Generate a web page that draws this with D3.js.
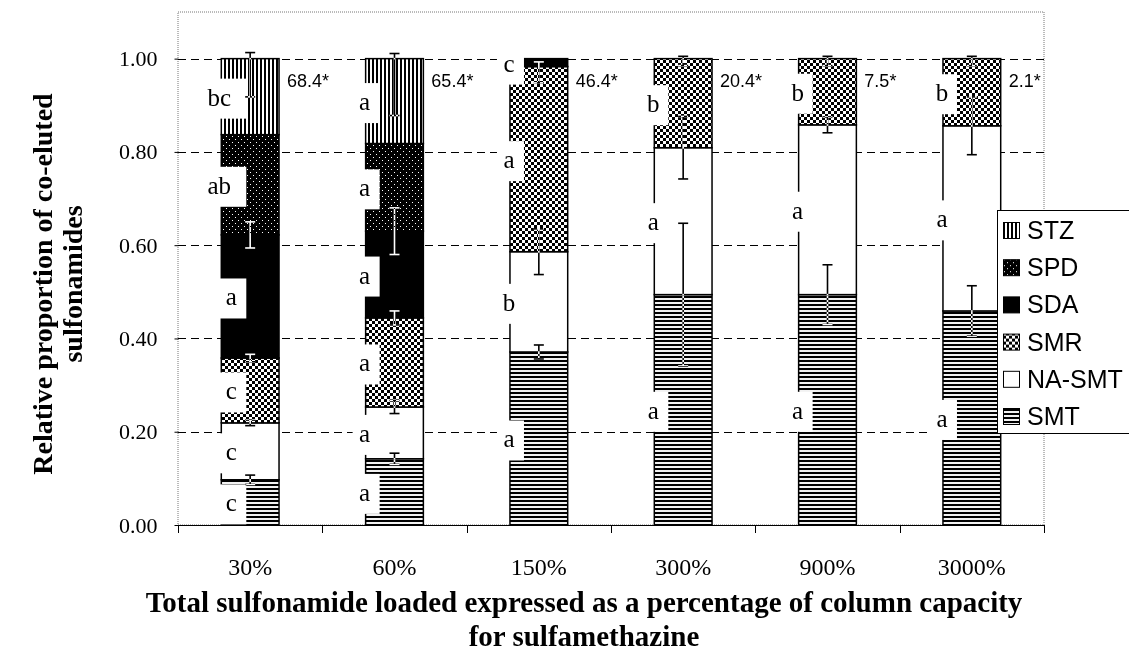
<!DOCTYPE html>
<html>
<head>
<meta charset="utf-8">
<script src="https://cdn.jsdelivr.net/npm/d3@7/dist/d3.min.js"></script>
<style>
  body { margin: 0; background: #fff; }
  svg { isolation: isolate; }
  .serif { font-family: "Liberation Serif", "Times New Roman", serif; }
  .sans { font-family: "Liberation Sans", Arial, sans-serif; }
</style>
</head>
<body>
<div id="chart"></div>
<script>
// data (stack order bottom -> top)
var categories = ["30%", "60%", "150%", "300%", "900%", "3000%"];
var keys = ["SMT", "NA-SMT", "SMR", "SDA", "SPD", "STZ"];

var smt   = [0.097, 0.142, 0.371, 0.494, 0.494, 0.459];
var naSmt = [0.122, 0.111, 0.215, 0.315, 0.364, 0.397];
var smr   = [0.139, 0.191, 0.397, 0.191, 0.142, 0.144];
var sda   = [0.264, 0.186, 0.017, 0, 0, 0];
var spd   = [0.215, 0.188, 0, 0, 0, 0];
var stz   = [0.163, 0.182, 0, 0, 0, 0];

// error bars [minus, plus] around top of each segment
var errSmt   = [[0.010, 0.010], [0.012, 0.012], [0.015, 0.015], [0.153, 0.153], [0.064, 0.064], [0.054, 0.054]];
var errNaSmt = [[0.006, 0.006], [0.014, 0.014], [0.049, 0.049], [0.067, 0.067], [0.017, 0.017], [0.062, 0.062]];
var errSmr   = [[0.008, 0.008], [0.015, 0.015], [0.035, 0.010], [0.015, 0.005], [0.015, 0.005], [0.015, 0.005]];
var errSda   = [[0.028, 0.028], [0.050, 0.050], null, null, null, null];
var errSpd   = [null, null, null, null, null, null];
var errStz   = [[0.082, 0.013], [0.122, 0.011], null, null, null, null];

// significance letters
var lblSmt   = ["c", "a", "a", "a", "a", "a"];
var lblNaSmt = ["c", "a", "b", "a", "a", "a"];
var lblSmr   = ["c", "a", "a", "b", "b", "b"];
var lblSda   = ["a", "a", "c", "", "", ""];
var lblSpd   = ["ab", "a", "", "", "", ""];
var lblStz   = ["bc", "a", "", "", "", ""];

var totals = ["68.4*", "65.4*", "46.4*", "20.4*", "7.5*", "2.1*"];
var yTicks = [0, 0.2, 0.4, 0.6, 0.8, 1.0];

var values = [smt, naSmt, smr, sda, spd, stz],
    errs = [errSmt, errNaSmt, errSmr, errSda, errSpd, errStz],
    lbls = [lblSmt, lblNaSmt, lblSmr, lblSda, lblSpd, lblStz];

var w = 1129, h = 662;
var svg = d3.select("#chart").append("svg")
    .attr("width", w).attr("height", h);
svg.append("rect").attr("width", w).attr("height", h).attr("fill", "#fff");

// patterns
var defs = svg.append("defs");
function pat(id, size) {
  return defs.append("pattern").attr("id", id)
    .attr("patternUnits", "userSpaceOnUse")
    .attr("width", size[0]).attr("height", size[1]);
}
var p;
p = pat("p-stz", [4, 4]);
p.append("rect").attr("width", 4).attr("height", 4).attr("fill", "#fff");
p.append("rect").attr("width", 2).attr("height", 4).attr("fill", "#000");

p = pat("p-spd", [6, 6]);
p.append("rect").attr("width", 6).attr("height", 6).attr("fill", "#000");
p.append("rect").attr("x", 1).attr("y", 1).attr("width", 1).attr("height", 1).attr("fill", "#fff");
p.append("rect").attr("x", 4).attr("y", 4).attr("width", 1).attr("height", 1).attr("fill", "#fff");

p = pat("p-smr", [6, 6]);
p.append("rect").attr("width", 6).attr("height", 6).attr("fill", "#000");
p.append("rect").attr("x", 0).attr("y", 0).attr("width", 3).attr("height", 3).attr("fill", "#fff");
p.append("rect").attr("x", 3).attr("y", 3).attr("width", 3).attr("height", 3).attr("fill", "#fff");

p = pat("p-smt", [4, 4]);
p.append("rect").attr("width", 4).attr("height", 4).attr("fill", "#f2f2f2");
p.append("rect").attr("width", 4).attr("height", 2).attr("fill", "#000");

var fills = {
  "SMT": "url(#p-smt)", "NA-SMT": "#fff", "SMR": "url(#p-smr)",
  "SDA": "#000", "SPD": "url(#p-spd)", "STZ": "url(#p-stz)"
};

// scales
var x = d3.scaleBand().domain(categories)
    .range([178, 1044]).paddingInner(0.6).paddingOuter(0.3);
var y = d3.scaleLinear().domain([0, 1.1]).range([525, 12]);
var step = x.step();

// plot border (dotted)
svg.append("rect").attr("x", 178).attr("y", 12)
  .attr("width", 866).attr("height", 513)
  .attr("fill", "none").attr("stroke", "#777")
  .attr("stroke-width", 1).attr("stroke-dasharray", "1,1");

// gridlines
svg.append("g").selectAll("line").data(yTicks.filter(function(d) { return d > 0; }))
  .enter().append("line")
  .attr("x1", 178).attr("x2", 1044)
  .attr("y1", function(d) { return Math.round(y(d)) + 0.5; })
  .attr("y2", function(d) { return Math.round(y(d)) + 0.5; })
  .attr("stroke", "#000").attr("stroke-dasharray", "8,5");

// y axis
var yAxis = d3.axisLeft(y).tickValues(yTicks).tickFormat(d3.format(".2f"))
    .tickSize(4).tickPadding(17);
var gy = svg.append("g").attr("transform", "translate(178.5,0)").call(yAxis);
gy.select(".domain").remove();
gy.selectAll("text").attr("class", "serif").style("font-size", "22px").attr("fill", "#000");

// x axis
var xAxis = d3.axisBottom(x).tickSize(0).tickPadding(32);
var gx = svg.append("g").attr("transform", "translate(0,525.5)").call(xAxis);
gx.select(".domain").remove();
gx.selectAll("text").attr("class", "serif").style("font-size", "24px").attr("fill", "#000");
svg.append("line").attr("x1", 178).attr("x2", 1044).attr("y1", 525.5).attr("y2", 525.5)
  .attr("stroke", "#000");
svg.append("g").selectAll("line").data(d3.range(categories.length + 1))
  .enter().append("line")
  .attr("x1", function(i) { return Math.round(178 + i * step) + 0.5; })
  .attr("x2", function(i) { return Math.round(178 + i * step) + 0.5; })
  .attr("y1", 525).attr("y2", 533).attr("stroke", "#000");

// stacked bars
var table = categories.map(function(c, j) {
  var row = { cat: c };
  keys.forEach(function(k, i) { row[k] = values[i][j]; });
  return row;
});
var stacked = d3.stack().keys(keys)(table);

var layers = svg.append("g").selectAll("g").data(stacked).enter().append("g")
  .attr("fill", function(d) { return fills[d.key]; });
layers.selectAll("rect")
  .data(function(d) { return d.filter(function(s) { return s[1] - s[0] > 0; }); })
  .enter().append("rect")
  .attr("x", function(d) { return x(d.data.cat); })
  .attr("y", function(d) { return y(d[1]); })
  .attr("width", x.bandwidth())
  .attr("height", function(d) { return y(d[0]) - y(d[1]); })
  .attr("stroke", "#000").attr("stroke-width", 1.5);

// letter labels with white boxes
var gl = svg.append("g");
stacked.forEach(function(layer, i) {
  layer.forEach(function(s, j) {
    var t = lbls[i][j];
    if (!t || s[1] - s[0] <= 0) return;
    var maxLen = d3.max(lbls, function(l) { return l[j].length; });
    var left = x(categories[j]);
    var boxRight = left + 14 + 11 * (maxLen - 1);
    var cx = boxRight - 15 - 12 * (t.length - 1);
    var mid = (y(s[0]) + y(s[1])) / 2 + 2;
    var tw = 12 * t.length;
    gl.append("rect")
      .attr("x", cx - tw / 2 - 6).attr("y", mid - 20)
      .attr("width", boxRight - (cx - tw / 2 - 6)).attr("height", 40)
      .attr("fill", "#fff");
    gl.append("text").attr("class", "serif")
      .attr("x", cx).attr("y", mid + 7)
      .attr("text-anchor", "middle")
      .style("font-size", "25px")
      .text(t);
  });
});

// error bars (inverted colour over dark fills)
var ge = svg.append("g").style("mix-blend-mode", "difference");
stacked.forEach(function(layer, i) {
  layer.forEach(function(s, j) {
    var e = errs[i][j];
    if (!e || s[1] - s[0] <= 0) return;
    var cx = x(categories[j]) + x.bandwidth() / 2;
    var y0 = y(s[1] - e[0]), y1 = y(s[1] + e[1]);
    ge.append("line").attr("x1", cx).attr("x2", cx).attr("y1", y0).attr("y2", y1);
    ge.append("line").attr("x1", cx - 5).attr("x2", cx + 5).attr("y1", y0).attr("y2", y0);
    ge.append("line").attr("x1", cx - 5).attr("x2", cx + 5).attr("y1", y1).attr("y2", y1);
  });
});
ge.selectAll("line").attr("stroke", "#fff").attr("stroke-width", 1.6);

// totals on the right of each bar
svg.append("g").selectAll("text").data(totals).enter().append("text")
  .attr("class", "sans")
  .attr("x", function(d, j) { return x(categories[j]) + x.bandwidth() + 8; })
  .attr("y", 87)
  .style("font-size", "18px")
  .text(function(d) { return d; });

// legend
var legendKeys = keys.slice().reverse();
var lg = svg.append("g");
lg.append("rect").attr("x", 997.5).attr("y", 210.5).attr("width", 140).attr("height", 223)
  .attr("fill", "#fff").attr("stroke", "#000");
var items = lg.selectAll("g.item").data(legendKeys).enter().append("g")
  .attr("transform", function(d, i) { return "translate(1003," + (239 + i * 37.2) + ")"; });
items.append("rect").attr("x", 0.5).attr("y", -16.5).attr("width", 16).attr("height", 16)
  .attr("fill", function(d) { return fills[d]; })
  .attr("stroke", "#000").attr("stroke-width", 1);
items.append("text").attr("class", "sans")
  .attr("x", 24).attr("y", 0)
  .style("font-size", "25px")
  .text(function(d) { return d; });

// axis titles
svg.append("text").attr("class", "serif")
  .attr("transform", "translate(52,284) rotate(-90)")
  .attr("text-anchor", "middle").style("font-size", "28px").style("font-weight", "bold")
  .text("Relative proportion of co-eluted");
svg.append("text").attr("class", "serif")
  .attr("transform", "translate(82,284) rotate(-90)")
  .attr("text-anchor", "middle").style("font-size", "28px").style("font-weight", "bold")
  .text("sulfonamides");
svg.append("text").attr("class", "serif")
  .attr("x", 584).attr("y", 612)
  .attr("text-anchor", "middle").style("font-size", "29px").style("font-weight", "bold")
  .text("Total sulfonamide loaded expressed as a percentage of column capacity");
svg.append("text").attr("class", "serif")
  .attr("x", 584).attr("y", 646)
  .attr("text-anchor", "middle").style("font-size", "29px").style("font-weight", "bold")
  .text("for sulfamethazine");
</script>
</body>
</html>
